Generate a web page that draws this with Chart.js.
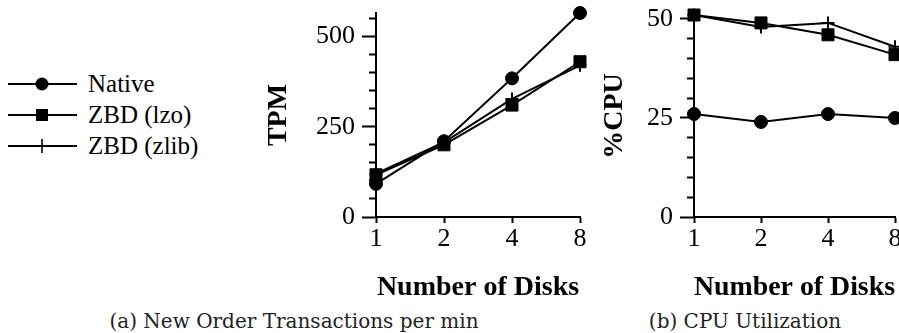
<!DOCTYPE html>
<html>
<head>
<meta charset="utf-8">
<script src="https://cdn.jsdelivr.net/npm/chart.js@4/dist/chart.umd.min.js"></script>
<style>
  html, body { margin: 0; padding: 0; background: #fff; width: 899px; height: 333px; overflow: hidden; }
  .box { position: absolute; top: 0; }
  .cap { position: absolute; font-family: "DejaVu Serif", serif; font-size: 20px; color: #222; white-space: nowrap; transform: translateX(-50%); }
  #legend { position: absolute; left: 0; top: 0; font-family: "Liberation Serif", serif; font-size: 25px; }
  #legend div { position: absolute; left: 0; height: 30px; white-space: nowrap; }
  #legend svg { position: absolute; left: 0; top: 0; }
  #legend span { position: absolute; left: 88px; top: 0; line-height: 30px; }
</style>
</head>
<body>

<div id="legend"></div>
<div class="box" style="left:250px;width:345px;height:305px"><canvas id="tpm"></canvas></div>
<div class="box" style="left:598px;width:332px;height:305px"><canvas id="cpu"></canvas></div>
<div class="cap" style="left:294px;top:309px">(a) New Order Transactions per min</div>
<div class="cap" style="left:745px;top:309px">(b) CPU Utilization</div>

<script>
// データ
var disks = ['1', '2', '4', '8'];
var seriesNames = ['Native', 'ZBD (lzo)', 'ZBD (zlib)'];
var tpmNative = [92, 210, 384, 565];
var tpmLzo = [117, 200, 310, 430];
var tpmZlib = [120, 207, 327, 420];
var cpuNative = [26, 24, 26, 25];
var cpuLzo = [51, 49, 46, 41];
var cpuZlib = [51, 48, 49, 43];

var styles = ['circle', 'rect', 'cross'];
var radius = [6.5, 8.5, 6.5];

function makeSets(vals){
  return vals.map(function(v, i){
    return {
      label: seriesNames[i],
      data: v,
      borderColor: '#000',
      backgroundColor: '#000',
      borderWidth: 2,
      pointStyle: styles[i],
      pointRadius: radius[i],
      pointBorderWidth: i == 2 ? 2 : 1,
      pointBackgroundColor: '#000',
      pointBorderColor: '#000',
      tension: 0,
      clip: false
    };
  });
}

function makeChart(id, vals, yTitle, yMax, step, major, yWidth, titlePad, padTop, padRight){
  var ctx = document.getElementById(id).getContext('2d');
  return new Chart(ctx, {
    type: 'line',
    data: { labels: disks, datasets: makeSets(vals) },
    options: {
      responsive: true,
      maintainAspectRatio: false,
      animation: false,
      layout: { padding: { top: padTop, right: padRight, left: 0, bottom: 0 } },
      plugins: { legend: { display: false }, tooltip: { enabled: false } },
      scales: {
        x: {
          type: 'category',
          offset: false,
          border: { color: '#000', width: 2 },
          grid: { drawOnChartArea: false, tickLength: 6, tickWidth: 2, tickColor: '#000' },
          ticks: { color: '#000', padding: 1, font: { family: 'Liberation Serif', size: 26 } },
          title: { display: true, text: 'Number of Disks', color: '#000', padding: { top: 0, bottom: 0 },
                   font: { family: 'Liberation Serif', size: 28, weight: 'bold' } },
          afterFit: function(s){ s.height = 88; s.paddingLeft = 0; }
        },
        y: {
          min: 0, max: yMax,
          border: { color: '#000', width: 2 },
          grid: {
            drawOnChartArea: false, tickLength: 14, tickWidth: 2, tickColor: '#000',
            tickBorderDash: function(c){ return (c.tick && c.tick.value % major === 0) ? [] : [0, 7, 30, 0]; }
          },
          ticks: {
            stepSize: step, includeBounds: false, autoSkip: false, color: '#000', padding: 7,
            font: { family: 'Liberation Serif', size: 26 },
            callback: function(v){ return v % major === 0 ? v : ''; }
          },
          title: { display: true, text: yTitle, color: '#000', padding: { top: titlePad, bottom: 0 },
                   font: { family: 'Liberation Serif', size: 28, weight: 'bold' } },
          afterFit: function(s){ s.width = yWidth; s.paddingTop = 0; s.paddingBottom = 0; }
        }
      }
    }
  });
}

makeChart('tpm', [tpmNative, tpmLzo, tpmZlib], 'TPM', 565, 50, 250, 126, 12, 13, 15);
makeChart('cpu', [cpuNative, cpuLzo, cpuZlib], '%CPU', 51, 5, 25, 96, 0, 15, 35);

// 凡例
var legendY = [84, 115, 146];
var icons = [
  '<circle cx="42" cy="15" r="6.5" fill="#000"/>',
  '<rect x="36" y="9" width="12" height="12" fill="#000"/>',
  '<line x1="42" y1="8" x2="42" y2="22" stroke="#000" stroke-width="1.6"/>'
];
var lg = document.getElementById('legend');
seriesNames.forEach(function(name, i){
  var row = document.createElement('div');
  row.style.top = (legendY[i] - 15) + 'px';
  row.innerHTML = '<svg width="80" height="30"><line x1="8" y1="15" x2="77" y2="15" stroke="#000" stroke-width="2"/>' +
    icons[i] + '</svg><span>' + name + '</span>';
  lg.appendChild(row);
});
</script>
</body>
</html>
